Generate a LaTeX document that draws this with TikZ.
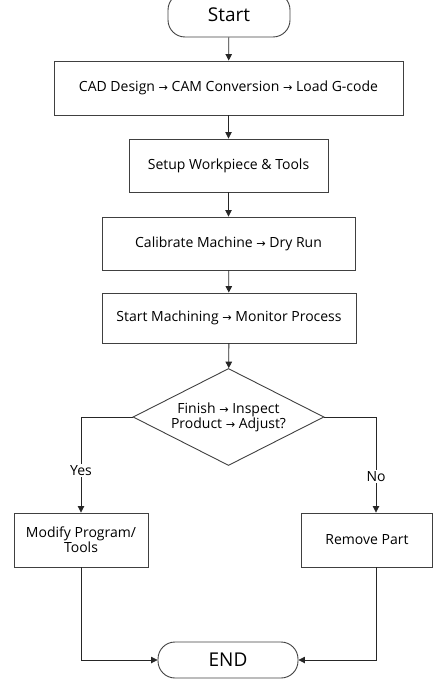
\documentclass[tikz,border=0pt]{standalone}
\usepackage{fontspec}
\setmainfont{Open Sans}
\newfontfamily\arrfont{DejaVu Sans}
\usetikzlibrary{shapes.geometric,arrows.meta}
\newcommand{\ar}{{\arrfont\scalebox{0.8}{→}}}
\begin{document}
\begin{tikzpicture}[x=1pt,y=-1pt,
  box/.style={draw=black!75,line width=0.9pt,rectangle,minimum width=#1,align=center,font=\fontsize{14}{15}\selectfont,inner sep=0pt},
  term/.style={draw=black!75,line width=0.9pt,rounded corners=17pt,minimum width=#1,minimum height=40pt,font=\fontsize{19}{22}\selectfont,inner sep=0pt},
  conn/.style={draw=black!85,line width=0.8pt,-{Triangle[length=6.5pt,width=6.5pt]}},
  lbl/.style={fill=white,font=\fontsize{14}{15}\selectfont,inner sep=1.5pt}]
\useasboundingbox (0,0) rectangle (433,679);
\node[term=122pt,minimum height=44pt] (start) at (229,15) {\raisebox{-3pt}{Start}};
\node[box=349pt,minimum height=54pt] (cad) at (228.5,88) {CAD Design \ar{} CAM Conversion \ar{} Load G-code};
\node[box=199pt,minimum height=53pt] (setup) at (228.5,165.5) {Setup Workpiece \& Tools};
\node[box=253pt,minimum height=53pt] (calib) at (228.5,243.5) {Calibrate Machine \ar{} Dry Run};
\node[box=254pt,minimum height=50pt] (mach) at (229,318) {Start Machining \ar{} Monitor Process};
\node[diamond,draw=black!75,line width=0.9pt,minimum width=191pt,minimum height=97pt,inner xsep=-25pt,inner ysep=-10pt,align=center,font=\fontsize{14}{13.5}\selectfont] (dec) at (228.5,417) {Finish \ar{} Inspect\\Product \ar{} Adjust?};
\node[box=134pt,minimum height=54pt] (modify) at (81,540) {Modify Program/\\Tools};
\node[box=131pt,minimum height=54pt] (remove) at (367,540) {Remove Part};
\node[term=140pt,minimum height=36pt] (end) at (228,660) {END};
\coordinate (nr) at (376,417);
\draw[conn] (start) -- (cad);
\draw[conn] (cad) -- (setup);
\draw[conn] (setup) -- (calib);
\draw[conn] (calib) -- (mach);
\draw[conn] (mach) -- (dec);
\draw[conn] (dec.west) -| node[lbl,pos=0.78] {Yes} (modify.north);
\draw[conn] (dec.east) -- (nr) -- node[lbl,pos=0.62] {No} (nr |- remove.north);
\draw[conn] (modify.south) |- (end.west);
\draw[conn] (nr |- remove.south) |- (end.east);
\end{tikzpicture}
\end{document}
